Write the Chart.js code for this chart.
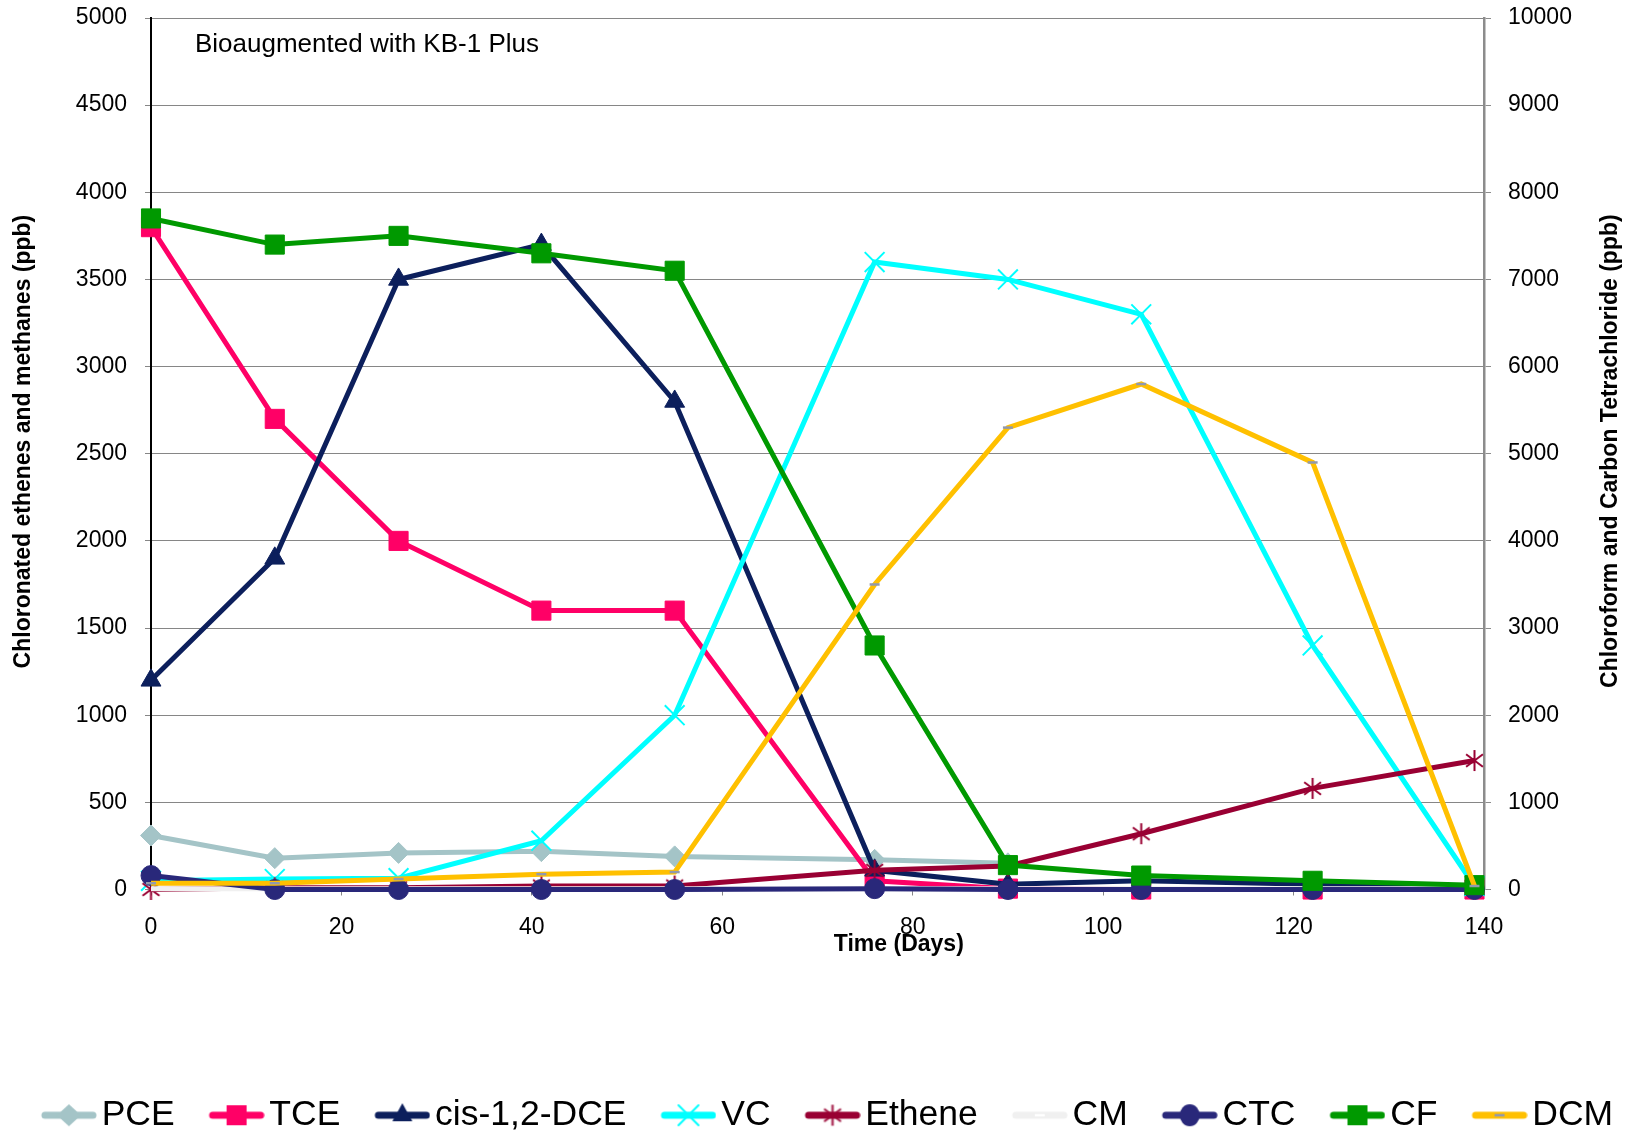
<!DOCTYPE html>
<html><head><meta charset="utf-8">
<style>html,body{margin:0;padding:0;background:#fff;}#wrap{width:1637px;height:1131px;}canvas{display:block;}</style>
<script src="https://cdn.jsdelivr.net/npm/chart.js@4.4.1/dist/chart.umd.min.js"></script>
</head><body><div id="wrap"><canvas id="c" width="1637" height="1131"></canvas></div>
<script>
// ---- data ----
const days = [0, 13, 26, 41, 55, 76, 90, 104, 122, 139];
const pce = [310, 180, 210, 220, 190, 170, 150, null, null, null];
const tce = [3800, 2700, 2000, 1600, 1600, 50, 5, 0, 0, 0];
const cisDce = [1200, 1900, 3500, 3700, 2800, 110, 30, 50, 30, 0];
const vc = [50, 60, 65, 280, 1000, 3600, 3500, 3300, 1400, 20];
const ethene = [0, 10, 10, 20, 20, 110, 135, 320, 580, 740];
const cm = [5, 5, 5, 5, 5, 5, 5, 5, 5, 5];
const dcm = [36, 36, 60, 88, 100, 1750, 2650, 2900, 2450, 20];
// right axis (chloroform & carbon tetrachloride)
const ctc = [160, 0, 0, 0, 0, 10, 0, 0, 0, 0];
const cf = [7700, 7400, 7500, 7300, 7100, 2800, 280, 160, 100, 50];

const xTicks = [0, 20, 40, 60, 80, 100, 120, 140];
const leftTicks = [0, 500, 1000, 1500, 2000, 2500, 3000, 3500, 4000, 4500, 5000];
const rightTicks = [0, 1000, 2000, 3000, 4000, 5000, 6000, 7000, 8000, 9000, 10000];

const seriesNames = ['PCE', 'TCE', 'cis-1,2-DCE', 'VC', 'Ethene', 'CM', 'CTC', 'CF', 'DCM'];
const leftTitle = 'Chloronated ethenes and methanes (ppb)';
const rightTitle = 'Chloroform and Carbon Tetrachloride (ppb)';
const xTitle = 'Time (Days)';
const note = 'Bioaugmented with KB-1 Plus';

// ---- styles ----
const FONT = '"Liberation Sans", Arial, Helvetica, sans-serif';
Chart.defaults.font.family = FONT;
const colors = {
  PCE: '#a4c4c7', TCE: '#ff0066', DCE: '#0c1f5c', VC: '#00ffff', ETH: '#990033',
  CM: '#f0f0f0', CTC: '#29287a', CF: '#009900', DCM: '#ffc000', DASH: '#9199ad'
};

function starImage(color, size) {
  const c = document.createElement('canvas');
  c.width = size; c.height = size;
  const g = c.getContext('2d');
  const m = size / 2, r = size / 2 - 1;
  g.strokeStyle = color; g.lineWidth = 2;
  g.beginPath();
  g.moveTo(m, m - r); g.lineTo(m, m + r);
  const d = r * 0.8;
  g.moveTo(m - d, m - d * 0.75); g.lineTo(m + d, m + d * 0.75);
  g.moveTo(m - d, m + d * 0.75); g.lineTo(m + d, m - d * 0.75);
  g.stroke();
  return c;
}
const ethStar = starImage(colors.ETH, 23);

function toXY(arr) { return days.map((d, i) => ({ x: d, y: arr[i] })); }

function ds(label, arr, color, axis, order, pt) {
  return Object.assign({
    label, data: toXY(arr), yAxisID: axis, order,
    borderColor: color, backgroundColor: color, borderWidth: 5,
    pointBackgroundColor: color, pointBorderColor: color, pointBorderWidth: 1,
    tension: 0, clip: false, spanGaps: false
  }, pt);
}

const datasets = [
  ds('PCE', pce, colors.PCE, 'y', 9, { pointStyle: 'rectRot', pointRadius: 10.5 }),
  ds('TCE', tce, colors.TCE, 'y', 8, { pointStyle: 'rect', pointRadius: 13.5 }),
  ds('cis-1,2-DCE', cisDce, colors.DCE, 'y', 7, { pointStyle: 'triangle', pointRadius: 11.5 }),
  ds('VC', vc, colors.VC, 'y', 6, { pointStyle: 'crossRot', pointRadius: 14, pointBorderWidth: 2 }),
  ds('Ethene', ethene, colors.ETH, 'y', 5, { pointStyle: ethStar, pointRadius: 11 }),
  ds('CM', cm, colors.CM, 'y', 4, { pointRadius: 0 }),
  ds('CTC', ctc, colors.CTC, 'y2', 3, { pointStyle: 'circle', pointRadius: 10 }),
  ds('CF', cf, colors.CF, 'y2', 2, { pointStyle: 'rect', pointRadius: 13.5 }),
  ds('DCM', dcm, colors.DCM, 'y', 1, { pointStyle: 'line', pointRadius: 5, pointBorderColor: colors.DASH, pointBorderWidth: 2.5 })
];

// ---- legend swatches (line + marker) ----
function swatch(color, marker) {
  const W = 86, H = 30;
  const c = document.createElement('canvas'); c.width = W; c.height = H;
  const g = c.getContext('2d');
  g.strokeStyle = color; g.lineWidth = 7; g.lineCap = 'round';
  g.beginPath(); g.moveTo(34, 15); g.lineTo(82, 15); g.stroke();
  const x = 58, y = 15;
  g.fillStyle = color; g.strokeStyle = color;
  g.beginPath();
  switch (marker) {
    case 'diamond': g.moveTo(x, y - 11); g.lineTo(x + 12, y); g.lineTo(x, y + 11); g.lineTo(x - 12, y); g.closePath(); g.fill(); break;
    case 'square': g.rect(x - 10, y - 10, 20, 20); g.fill(); break;
    case 'triangle': g.moveTo(x, y - 12); g.lineTo(x + 10, y + 6); g.lineTo(x - 10, y + 6); g.closePath(); g.fill(); break;
    case 'x': g.lineWidth = 2; g.moveTo(x - 10, y - 10); g.lineTo(x + 10, y + 10); g.moveTo(x - 10, y + 10); g.lineTo(x + 10, y - 10); g.stroke(); break;
    case 'star': g.drawImage(ethStar, x - 11.5, y - 11.5); break;
    case 'circle': g.ellipse(x, y, 10, 11, 0, 0, Math.PI * 2); g.fill(); break;
    case 'dash': g.strokeStyle = colors.DASH; g.lineWidth = 2.5; g.lineCap = 'butt'; g.moveTo(x - 5, y); g.lineTo(x + 5, y); g.stroke(); break;
    case 'wdash': g.strokeStyle = '#ffffff'; g.lineWidth = 2.5; g.lineCap = 'butt'; g.moveTo(x - 5, y); g.lineTo(x + 5, y); g.stroke(); break;
  }
  return c;
}
const swatches = [
  swatch(colors.PCE, 'diamond'), swatch(colors.TCE, 'square'), swatch(colors.DCE, 'triangle'),
  swatch(colors.VC, 'x'), swatch(colors.ETH, 'star'), swatch(colors.CM, 'wdash'),
  swatch(colors.CTC, 'circle'), swatch(colors.CF, 'square'), swatch(colors.DCM, 'dash')
];

const textPlugin = {
  id: 'texts',
  afterDraw(chart) {
    const { ctx, chartArea: a } = chart;
    ctx.save();
    ctx.fillStyle = '#000';
    ctx.font = '26px ' + FONT;
    ctx.textAlign = 'left'; ctx.textBaseline = 'alphabetic';
    ctx.fillText(note, a.left + 44, a.top + 34);
    ctx.font = 'bold 23px ' + FONT;
    ctx.textAlign = 'center'; ctx.textBaseline = 'middle';
    ctx.fillText(xTitle, a.left + a.width * 0.561, a.bottom + 55);
    // axis titles (both read bottom-to-top)
    const midL = a.top + a.height * 0.486;
    const midR = a.top + a.height * 0.497;
    ctx.save(); ctx.translate(a.left - 127, midL); ctx.rotate(-Math.PI / 2);
    ctx.fillText(leftTitle, 0, 0); ctx.restore();
    ctx.save(); ctx.translate(a.right + 127, midR); ctx.rotate(-Math.PI / 2);
    ctx.fillText(rightTitle, 0, 0); ctx.restore();
    ctx.restore();
  }
};

const plain = v => String(v);
const noPad = s => { s.paddingTop = 0; s.paddingBottom = 0; };

new Chart(document.getElementById('c'), {
  type: 'line',
  data: { datasets },
  plugins: [textPlugin],
  options: {
    responsive: false, animation: false, devicePixelRatio: 1,
    layout: { padding: { top: 18, bottom: -12, left: 0, right: 0 } },
    plugins: {
      tooltip: { enabled: false },
      legend: {
        position: 'bottom', align: 'center',
        labels: {
          usePointStyle: true, pointStyleWidth: 60, padding: 17,
          font: { size: 35.5 }, color: '#000',
          generateLabels: () => seriesNames.map((n, i) => ({
            text: n, pointStyle: swatches[i], fillStyle: 'rgba(0,0,0,0)',
            strokeStyle: 'rgba(0,0,0,0)', lineWidth: 0, hidden: false, datasetIndex: i, fontColor: '#000'
          }))
        }
      }
    },
    scales: {
      x: {
        type: 'linear', min: 0, max: 140,
        afterBuildTicks: s => { s.ticks = xTicks.map(v => ({ value: v })); },
        ticks: { font: { size: 23 }, color: '#000', padding: 18, maxRotation: 0, autoSkip: false, callback: plain },
        grid: { drawOnChartArea: false, drawTicks: true, tickLength: 6, color: '#868686' },
        border: { display: true, color: '#868686', width: 1 },
        afterFit: s => { s.height = 191; }
      },
      y: {
        position: 'left', min: 0, max: 5000,
        afterBuildTicks: s => { s.ticks = leftTicks.map(v => ({ value: v })); },
        ticks: { font: { size: 23 }, color: '#000', padding: 18, callback: plain },
        grid: { color: '#868686', lineWidth: 1, tickLength: 6 },
        border: { color: '#000', width: 2 },
        afterFit: s => { s.width = 151; noPad(s); }
      },
      y2: {
        position: 'right', min: 0, max: 10000,
        afterBuildTicks: s => { s.ticks = rightTicks.map(v => ({ value: v })); },
        ticks: { font: { size: 23 }, color: '#000', padding: 17, callback: plain },
        grid: { drawOnChartArea: false, color: '#8c8c8c', tickLength: 7 },
        border: { color: '#8c8c8c', width: 2.5 },
        afterFit: s => { s.width = 153; noPad(s); }
      }
    }
  }
});
</script></body></html>
